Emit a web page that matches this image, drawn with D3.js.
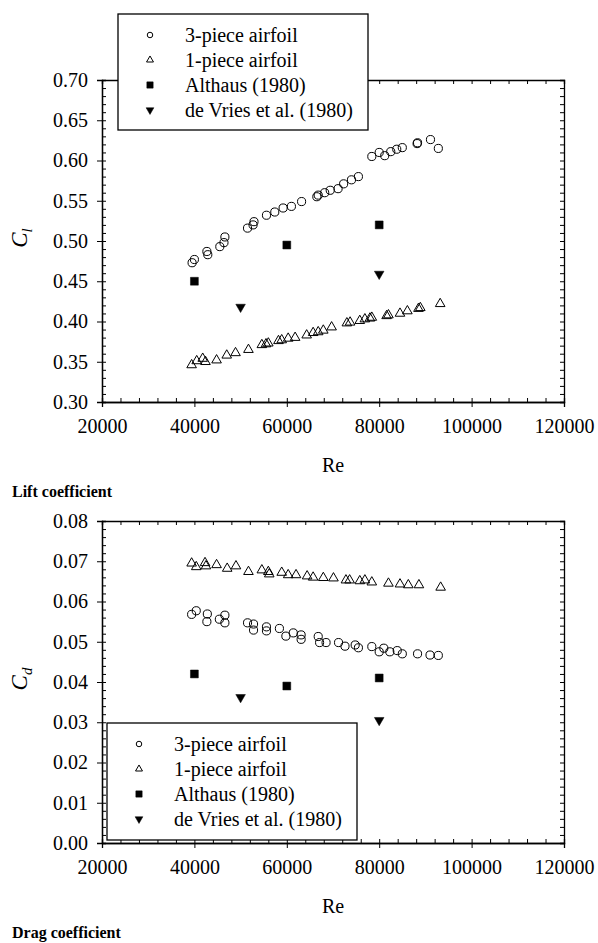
<!DOCTYPE html>
<html>
<head>
<meta charset="utf-8">
<script src="https://cdn.jsdelivr.net/npm/d3@7"></script>
<style>
  body { margin: 0; background: #fff; }
  svg, svg text { font-family: "Liberation Serif", "Times New Roman", Times, "DejaVu Serif", serif; }
</style>
</head>
<body>
<div id="chart"></div>
<script>
// ---- data ----
const seriesNames = ["3-piece airfoil", "1-piece airfoil", "Althaus (1980)", "de Vries et al. (1980)"];

// lift coefficient
const liftRe3 = [39500, 40000, 42700, 42900, 45500, 46400, 46600, 51500, 52700, 52900, 55600, 57400, 59200, 61000, 63200, 66500, 66800, 68200, 69400, 71100, 72300, 74000, 75500, 78400, 80000, 81200, 82500, 83800, 85000, 88200, 88300, 91100, 92800];
const liftCl3 = [0.473, 0.477, 0.487, 0.483, 0.493, 0.498, 0.505, 0.516, 0.520, 0.524, 0.532, 0.536, 0.541, 0.543, 0.549, 0.555, 0.557, 0.560, 0.563, 0.565, 0.571, 0.576, 0.580, 0.605, 0.610, 0.606, 0.611, 0.614, 0.616, 0.621, 0.622, 0.626, 0.615];
const liftRe1 = [39400, 40500, 41800, 42400, 44800, 47000, 48900, 51700, 54600, 55500, 56000, 58200, 58900, 60300, 61800, 64300, 65700, 66800, 67900, 69700, 73000, 73700, 75800, 76900, 78000, 78400, 81600, 82000, 84500, 86100, 88500, 88900, 93200];
const liftCl1 = [0.346, 0.351, 0.354, 0.350, 0.352, 0.358, 0.361, 0.365, 0.371, 0.372, 0.373, 0.376, 0.377, 0.379, 0.380, 0.383, 0.386, 0.387, 0.389, 0.393, 0.398, 0.399, 0.401, 0.403, 0.404, 0.405, 0.407, 0.408, 0.410, 0.413, 0.416, 0.417, 0.422];
const liftReAlthaus = [40000, 60000, 80000];
const liftClAlthaus = [0.450, 0.495, 0.520];
const liftReDeVries = [50000, 80000];
const liftClDeVries = [0.418, 0.459];

// drag coefficient
const dragRe3 = [39400, 40400, 42800, 42700, 45400, 46600, 46600, 51500, 52800, 52800, 55600, 55600, 58400, 59800, 61400, 63100, 63100, 66800, 67100, 68500, 71200, 72600, 74800, 75500, 78400, 80000, 81000, 82300, 83900, 85000, 88300, 91000, 92800];
const dragCd3 = [0.0568, 0.0577, 0.0569, 0.0550, 0.0556, 0.0566, 0.0547, 0.0547, 0.0544, 0.0529, 0.0537, 0.0527, 0.0533, 0.0514, 0.0522, 0.0517, 0.0506, 0.0513, 0.0498, 0.0498, 0.0498, 0.0489, 0.0492, 0.0485, 0.0488, 0.0475, 0.0484, 0.0475, 0.0478, 0.0470, 0.0470, 0.0467, 0.0466];
const dragRe1 = [39400, 40400, 42300, 42500, 44800, 47100, 49000, 51700, 54600, 56000, 56200, 58900, 60300, 62000, 64400, 65700, 67900, 70100, 72800, 73600, 75800, 76900, 78400, 82000, 84500, 86300, 88600, 93300];
const dragCd1 = [0.0695, 0.0686, 0.0696, 0.0688, 0.0691, 0.0682, 0.0688, 0.0674, 0.0678, 0.0674, 0.0668, 0.0672, 0.0666, 0.0666, 0.0663, 0.0660, 0.0659, 0.0658, 0.0653, 0.0653, 0.0651, 0.0653, 0.0648, 0.0645, 0.0643, 0.0641, 0.0641, 0.0635];
const dragReAlthaus = [40000, 60000, 80000];
const dragCdAlthaus = [0.0420, 0.0390, 0.0410];
const dragReDeVries = [50000, 80000];
const dragCdDeVries = [0.0362, 0.0305];

const xTicks = [20000, 40000, 60000, 80000, 100000, 120000];
const liftTicks = [0.30, 0.35, 0.40, 0.45, 0.50, 0.55, 0.60, 0.65, 0.70];
const dragTicks = [0.00, 0.01, 0.02, 0.03, 0.04, 0.05, 0.06, 0.07, 0.08];

const SERIF = "'Liberation Serif', 'Times New Roman', Times, 'DejaVu Serif', serif";
const zip = (xs, ys) => xs.map((x, i) => [x, ys[i]]);

const svg = d3.select("#chart").append("svg")
    .attr("width", 598)
    .attr("height", 943)
    .attr("font-family", SERIF);

// marker shapes, one per series
const shapes = [
    { type: d3.symbolCircle,   size: 52, legendSize: 24, fill: "none",  rot: 0 },
    { type: d3.symbolTriangle, size: 40, legendSize: 21, fill: "none",  rot: 0 },
    { type: d3.symbolSquare,   size: 62, legendSize: 40, fill: "#000",  rot: 0 },
    { type: d3.symbolTriangle, size: 40, legendSize: 26, fill: "#000",  rot: 180 }
];

function marker(g, shape, size) {
    g.append("path")
        .attr("d", d3.symbol().type(shape.type).size(size)())
        .attr("transform", shape.rot ? `rotate(${shape.rot})` : null)
        .attr("fill", shape.fill)
        .attr("stroke", "#000")
        .attr("stroke-width", shape.fill === "none" ? 1 : 0.5);
}

function drawPanel(opt) {
    const x = d3.scaleLinear().domain([20000, 120000]).range([102, 564]);
    const y = d3.scaleLinear().domain(opt.yDomain).range([opt.bottom, opt.top]);
    const g = svg.append("g");

    const minorX = d3.range(20000, 120001, 4000);
    const step = (opt.yDomain[1] - opt.yDomain[0]) / 40;
    const minorY = d3.range(0, 41).map(i => opt.yDomain[0] + i * step);

    // major ticks outward with labels
    g.append("g").attr("class", "axis")
        .attr("transform", `translate(0,${opt.bottom})`)
        .call(d3.axisBottom(x).tickValues(xTicks).tickFormat(d3.format("d")).tickSize(5).tickPadding(12));
    g.append("g").attr("class", "axis")
        .attr("transform", "translate(102,0)")
        .call(d3.axisLeft(y).tickValues(opt.yTicks).tickFormat(opt.fmt).tickSize(5).tickPadding(9));

    // minor ticks inward on all four sides
    g.append("g").attr("class", "axis minor")
        .attr("transform", `translate(0,${opt.bottom})`)
        .call(d3.axisBottom(x).tickValues(minorX).tickFormat("").tickSize(-4));
    g.append("g").attr("class", "axis minor")
        .attr("transform", `translate(0,${opt.top})`)
        .call(d3.axisTop(x).tickValues(minorX).tickFormat("").tickSize(-4));
    g.append("g").attr("class", "axis minor")
        .attr("transform", "translate(102,0)")
        .call(d3.axisLeft(y).tickValues(minorY).tickFormat("").tickSize(-4));
    g.append("g").attr("class", "axis minor")
        .attr("transform", "translate(564,0)")
        .call(d3.axisRight(y).tickValues(minorY).tickFormat("").tickSize(-4));

    g.selectAll(".axis").attr("font-family", SERIF);
    g.selectAll(".axis path").attr("stroke", "#000").attr("stroke-width", 1.3);
    g.selectAll(".axis line").attr("stroke", "#000").attr("stroke-width", 1);
    g.selectAll(".axis text")
        .attr("fill", "#000")
        .attr("font-family", SERIF)
        .attr("font-size", 20);

    // data
    opt.series.forEach((pts, k) => {
        g.append("g").selectAll("g").data(pts).join("g")
            .attr("transform", d => `translate(${x(d[0])},${y(d[1])})`)
            .each(function () { marker(d3.select(this), shapes[k], shapes[k].size); });
    });

    // axis titles
    g.append("text")
        .attr("x", 333).attr("y", opt.bottom + 70)
        .attr("text-anchor", "middle")
        .attr("font-family", SERIF)
        .attr("font-size", 20)
        .text("Re");

    const yl = g.append("text")
        .attr("transform", `translate(27,${(opt.top + opt.bottom) / 2 - 3}) rotate(-90)`)
        .attr("text-anchor", "middle")
        .attr("font-family", SERIF)
        .attr("font-style", "italic");
    yl.append("tspan").attr("font-size", 23).text("C");
    yl.append("tspan").attr("font-size", 15).attr("dy", 5).text(opt.sub);

    g.append("text")
        .attr("x", 12).attr("y", opt.bottom + 95)
        .attr("font-family", SERIF)
        .attr("font-size", 16)
        .attr("font-weight", "bold")
        .text(opt.caption);

    // legend
    const L = opt.legend;
    const lg = g.append("g");
    lg.append("rect")
        .attr("x", L.x).attr("y", L.y)
        .attr("width", 250).attr("height", L.h)
        .attr("fill", "#fff")
        .attr("stroke", "#000")
        .attr("stroke-width", 1.3);
    seriesNames.forEach((name, k) => {
        const cy = L.y + 21 + k * 25;
        const s = lg.append("g").attr("transform", `translate(${L.x + 32},${cy})`);
        marker(s, shapes[k], shapes[k].legendSize);
        lg.append("text")
            .attr("x", L.x + 67).attr("y", cy + 7)
            .attr("font-family", SERIF)
            .attr("font-size", 20)
            .text(name);
    });
}

drawPanel({
    yDomain: [0.30, 0.70], yTicks: liftTicks, fmt: d3.format(".2f"),
    top: 80, bottom: 402, sub: "l", caption: "Lift coefficient",
    series: [zip(liftRe3, liftCl3), zip(liftRe1, liftCl1), zip(liftReAlthaus, liftClAlthaus), zip(liftReDeVries, liftClDeVries)],
    legend: { x: 118, y: 14, h: 116 }
});

drawPanel({
    yDomain: [0.00, 0.08], yTicks: dragTicks, fmt: d3.format(".2f"),
    top: 521, bottom: 843, sub: "d", caption: "Drag coefficient",
    series: [zip(dragRe3, dragCd3), zip(dragRe1, dragCd1), zip(dragReAlthaus, dragCdAlthaus), zip(dragReDeVries, dragCdDeVries)],
    legend: { x: 107, y: 723, h: 117 }
});
</script>
</body>
</html>
